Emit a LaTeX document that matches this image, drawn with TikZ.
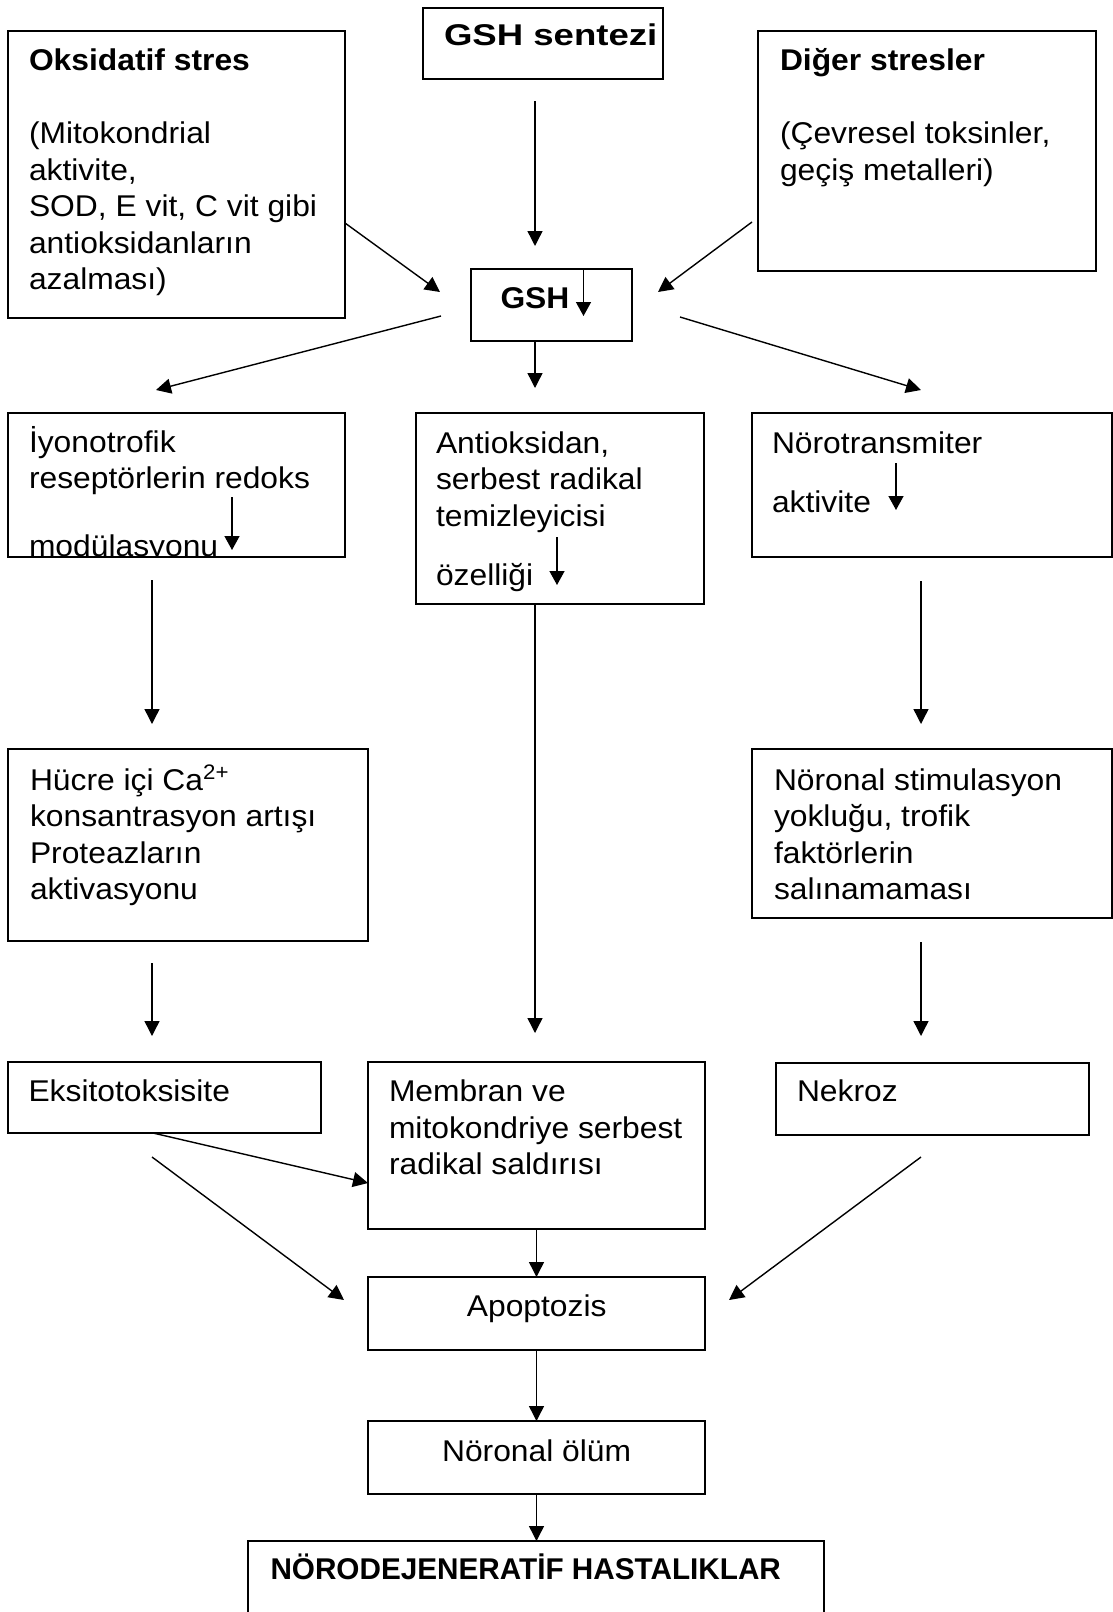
\documentclass[tikz,border=0pt]{standalone}
\usepackage{fontspec}
\usepackage{graphicx}
\setmainfont{Liberation Sans}[FakeStretch=1.06]
\usetikzlibrary{arrows.meta,calc}
\tikzset{
  box/.style={draw, line width=0.9pt, inner sep=0pt, outer sep=0pt, anchor=north west},
  txt/.style={inner sep=0pt, outer sep=0pt, anchor=base west},
  ctxt/.style={inner sep=0pt, outer sep=0pt, anchor=base},
  arr/.style={line width=0.7pt, -{Triangle[length=7.5pt,width=7.5pt]}},
  sarr/.style={line width=0.7pt, -{Triangle[length=7pt,width=7.5pt]}},
}
\newcommand{\mybox}[5]{\node[box, minimum width={(#4-#2)*0.5pt}, minimum height={(#5-#3)*0.5pt}] (#1) at (#2,#3) {};}
\newcommand{\mylines}[1]{\parbox[t]{12cm}{\raggedright #1}}
\begin{document}
\begin{tikzpicture}[x=0.5pt,y=-0.5pt, every node/.style={font=\fontsize{15}{18.25}\selectfont}]
\useasboundingbox (0,0) rectangle (1113,1612);
% boxes
\mybox{sentezi}{423}{8}{663}{79}
\mybox{ox}{8}{31}{345}{318}
\mybox{diger}{758}{31}{1096}{271}
\mybox{gsh}{471}{269}{632}{341}
\mybox{ion}{8}{413}{345}{557}
\mybox{antiox}{416}{413}{704}{604}
\mybox{noro}{752}{413}{1112}{557}
\mybox{hucre}{8}{749}{368}{941}
\mybox{stim}{752}{749}{1112}{918}
\mybox{eksi}{8}{1062}{321}{1133}
\mybox{membran}{368}{1062}{705}{1229}
\mybox{nekroz}{776}{1063}{1089}{1135}
\mybox{apop}{368}{1277}{705}{1350}
\mybox{olum}{368}{1421}{705}{1494}
\mybox{nd}{248}{1541}{824}{1660}
% texts
\node[txt] (t-sentezi) at (444,45) {\scalebox{1.15}[1]{\textbf{GSH sentezi}}};
\node[txt] (t-ox) at (29,70) {\mylines{\textbf{Oksidatif stres}\\[18.5pt](Mitokondrial\\aktivite,\\SOD, E vit, C vit gibi\\antioksidanların\\azalması)}};
\node[txt] (t-diger) at (780,70) {\mylines{\textbf{Diğer stresler}\\[18.5pt](Çevresel toksinler,\\geçiş metalleri)}};
\node[txt] (t-gsh) at (500.5,308) {\textbf{GSH}};
\begin{scope}
\clip ([yshift=0.5pt]ion.south west) rectangle (ion.north east);
\node[txt] (t-ion) at (29,452) {\mylines{İyonotrofik\\reseptörlerin redoks\\[15.75pt]modülasyonu}};
\end{scope}
\node[txt] (t-antiox) at (436,453) {\mylines{Antioksidan,\\serbest radikal\\temizleyicisi\\[11.25pt]özelliği}};
\node[txt] (t-noro) at (772,453) {\mylines{Nörotransmiter\\[11.25pt]aktivite}};
\node[txt] (t-hucre) at (30,790) {\mylines{Hücre içi Ca\textsuperscript{2+}\\konsantrasyon artışı\\Proteazların\\aktivasyonu}};
\node[txt] (t-stim) at (774,790) {\mylines{Nöronal stimulasyon\\yokluğu, trofik\\faktörlerin\\salınamaması}};
\node[txt] (t-eksi) at (28.5,1101) {Eksitotoksisite};
\node[txt] (t-membran) at (389,1101.5) {\mylines{Membran ve\\mitokondriye serbest\\radikal saldırısı}};
\node[txt] (t-nekroz) at (797,1101.5) {Nekroz};
\node[ctxt] (t-apop) at (536.7,1316.5) {Apoptozis};
\node[ctxt] (t-olum) at (536.6,1461.5) {Nöronal ölüm};
\node[txt] (t-nd) at (270.5,1579) {\scalebox{0.934}[1]{\textbf{NÖRODEJENERATİF HASTALIKLAR}}};
% small inline decrease arrows
\draw[sarr] (583.5,269) -- (583.5,316);
\draw[sarr] (232,497) -- (232,550);
\draw[sarr] (557,537) -- (557,585);
\draw[sarr] (896,463) -- (896,510);
% column coordinates
\coordinate (xA) at (535,0);
\coordinate (xL) at (152,0);
\coordinate (xR) at (921,0);
\coordinate (xM) at (536.5,0);
% connectors
\draw[arr, shorten <=11pt, shorten >=11.5pt] (sentezi.south -| xA) -- (gsh.north -| xA);
\draw[arr] ($(ox.north east)+(0,192)$) -- ($(gsh.west)+(-31,-13)$);
\draw[arr] ($(diger.west)+(-6,71)$) -- ($(gsh.east)+(26,-13)$);
\draw[arr] ($(gsh.west)+(-30,11)$) -- ($(ion.north)+(-20.5,-23)$);
\draw[arr, shorten >=12.5pt] (gsh.south -| xA) -- (antiox.north -| xA);
\draw[arr] ($(gsh.east)+(48,12)$) -- ($(noro.north)+(-11,-23)$);
\draw[arr, shorten <=11.5pt, shorten >=12.5pt] (ion.south -| xL) -- (hucre.north -| xL);
\draw[arr, shorten >=14.5pt] (antiox.south -| xA) -- (membran.north -| xA);
\draw[arr, shorten <=12pt, shorten >=12.5pt] (noro.south -| xR) -- (stim.north -| xR);
\draw[arr, shorten <=11pt, shorten >=13pt] (hucre.south -| xL) -- (eksi.north -| xL);
\draw[arr, shorten <=12pt, shorten >=13.5pt] (stim.south -| xR) -- (nekroz.north -| xR);
\draw[arr] ($(eksi.south)+(-11.5,0)$) -- ($(membran.west)+(0,37.5)$);
\draw[arr] ($(eksi.south)+(-12.5,24)$) -- ($(apop.west)+(-24,-13.5)$);
\draw[arr] ($(nekroz.south)+(-11.5,22)$) -- ($(apop.east)+(24,-13.5)$);
\draw[arr] (membran.south -| xM) -- (apop.north -| xM);
\draw[arr] (apop.south -| xM) -- (olum.north -| xM);
\draw[arr] (olum.south -| xM) -- (nd.north -| xM);
\end{tikzpicture}
\end{document}
